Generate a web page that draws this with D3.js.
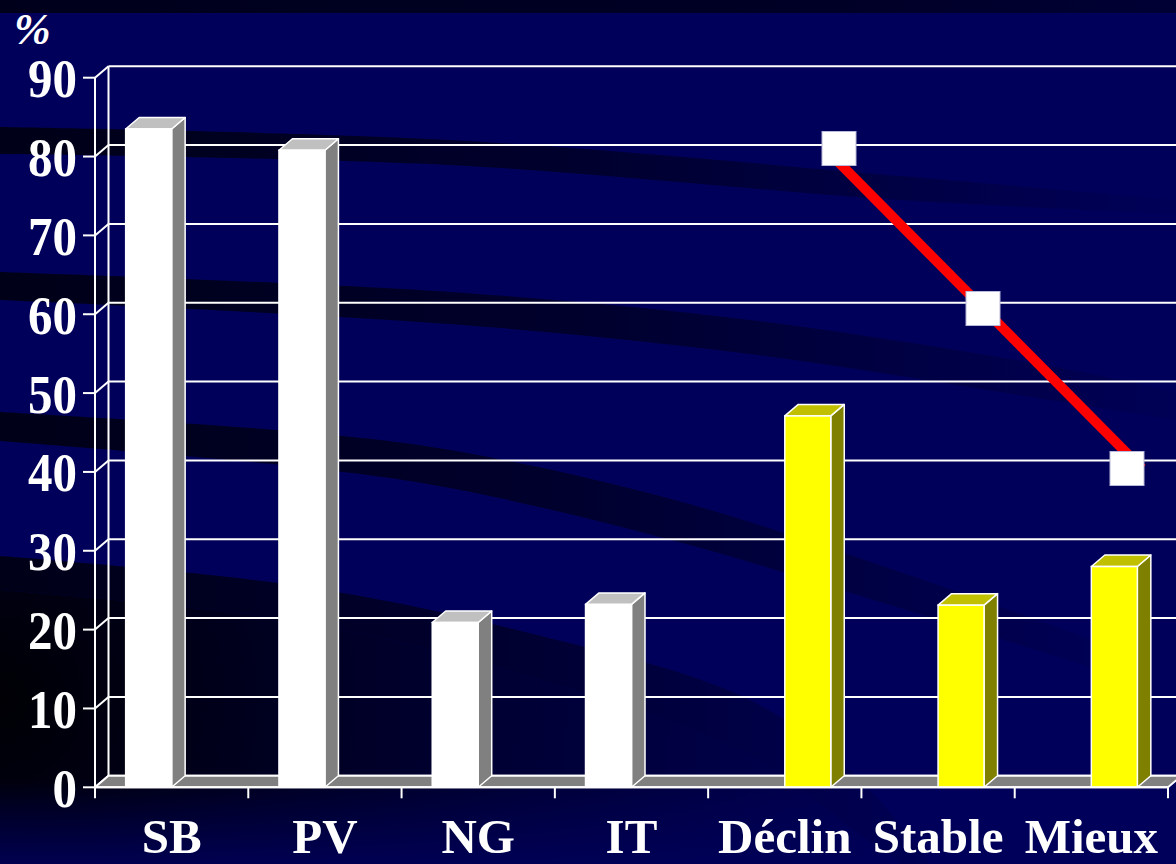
<!DOCTYPE html>
<html>
<head>
<meta charset="utf-8">
<script src="https://cdn.jsdelivr.net/npm/d3@7"></script>
<style>
  html, body { margin: 0; padding: 0; background: #00005a; }
  svg { display: block; }
</style>
</head>
<body>
<svg id="chart" width="1176" height="864"></svg>
<script>
// ---- data ----
const categories = ["SB", "PV", "NG", "IT", "Déclin", "Stable", "Mieux"];
const seriesKeys = ["facteurs", "evolution"];
const facteursValues = [83.5, 80.8, 20.9, 23.2, null, null, null];
const evolutionValues = [null, null, null, null, 47.1, 23.1, 28];
const lineCategories = ["Déclin", "Stable", "Mieux"];
const lineValues = [80, 60, 40];
const yTicks = [0, 10, 20, 30, 40, 50, 60, 70, 80, 90];
const yUnit = "%";

// ---- layout ----
const W = 1176, H = 864;
const depth = { dx: 13.5, dy: -11.5 };
const svg = d3.select("#chart");

const x = d3.scaleBand().domain(categories).range([95, 1168]).padding(0);
const inner = d3.scaleBand().domain(seriesKeys).range([0, x.bandwidth()])
  .paddingInner(0).paddingOuter(0.667);
const y = d3.scaleLinear().domain([0, 90]).range([787.3, 77.7]);

// line overlay runs on its own plane
const lineX = d3.scalePoint().domain(lineCategories).range([825, 1142]);
const markX = d3.scalePoint().domain(lineCategories).range([839, 1127]);
const lineY = d3.scaleLinear().domain([0, 90]).range([788.5, 68.5]);

// ---- background ----
const defs = svg.append("defs");
function fadeGradient(id, x1, x2, stops) {
  const g = defs.append("linearGradient").attr("id", id)
    .attr("gradientUnits", "userSpaceOnUse")
    .attr("x1", x1).attr("y1", 0).attr("x2", x2).attr("y2", 0);
  stops.forEach(s => g.append("stop").attr("offset", s[0])
    .attr("stop-color", "#000010").attr("stop-opacity", s[1]));
  return "url(#" + id + ")";
}

svg.append("rect").attr("width", W).attr("height", H).attr("fill", "#00005a");

// dark lower-left region
const rg = defs.append("radialGradient").attr("id", "cornerShade")
  .attr("gradientUnits", "userSpaceOnUse")
  .attr("cx", 0).attr("cy", 700).attr("r", 950);
rg.append("stop").attr("offset", 0).attr("stop-color", "#000000").attr("stop-opacity", 0.95);
rg.append("stop").attr("offset", 0.45).attr("stop-color", "#000010").attr("stop-opacity", 0.6);
rg.append("stop").attr("offset", 1).attr("stop-color", "#000020").attr("stop-opacity", 0.1);

const curve = d3.line().curve(d3.curveCatmullRom.alpha(0.5));

const band5Lower = [[0, 590], [300, 622], [525, 675], [750, 755], [862, 836], [905, 864]];
svg.append("path")
  .attr("d", curve(band5Lower) + "L0,864Z")
  .attr("fill", "url(#cornerShade)");

// lighten bottom strip back toward navy
const bg = defs.append("linearGradient").attr("id", "bottomLift")
  .attr("x1", 0).attr("y1", 0).attr("x2", 0).attr("y2", 1);
bg.append("stop").attr("offset", 0).attr("stop-color", "#00005a").attr("stop-opacity", 0);
bg.append("stop").attr("offset", 1).attr("stop-color", "#00005a").attr("stop-opacity", 0.85);
svg.append("rect").attr("x", 0).attr("y", 780).attr("width", 900).attr("height", 84)
  .attr("fill", "url(#bottomLift)");

// top strip
svg.append("rect").attr("x", 0).attr("y", 0).attr("width", W).attr("height", 13)
  .attr("fill", fadeGradient("topFade", 0, W, [[0, 0.85], [0.7, 0.7], [1, 0.5]]));

const bands = [
  { id: "b2", upper: [[0, 127], [450, 140], [900, 176], [1176, 200]],
    lower: [[1176, 214], [900, 200], [450, 165], [0, 154]], fade: [0, 1150] },
  { id: "b3", upper: [[0, 272], [450, 292], [750, 320], [1050, 366], [1176, 392]],
    lower: [[1176, 420], [1050, 400], [750, 354], [450, 324], [0, 300]], fade: [0, 1176] },
  { id: "b4", upper: [[0, 412], [300, 432], [450, 450], [675, 500], [900, 572], [1120, 650]],
    lower: [[1120, 676], [900, 608], [675, 541], [450, 488], [300, 467], [0, 441]], fade: [0, 1120] },
  { id: "b5", upper: [[0, 556], [300, 586], [525, 632], [750, 700], [862, 782], [930, 864]],
    lower: [[905, 864]].concat(band5Lower.slice(0, -1).reverse()), fade: [0, 950] }
];
bands.forEach(b => {
  const d = curve(b.upper) + "L" + curve(b.lower).slice(1) + "Z";
  svg.append("path").attr("d", d)
    .attr("fill", fadeGradient("fade_" + b.id, b.fade[0], b.fade[1],
      [[0, 0.9], [0.5, 0.6], [1, 0.05]]));
});

// ---- walls, gridlines and floor ----
const white = "#ffffff";
const grid = svg.append("g");
yTicks.forEach(t => {
  const yf = y(t), yb = y(t) + depth.dy;
  grid.append("line").attr("x1", 95 + depth.dx).attr("x2", W + 5)
    .attr("y1", yb).attr("y2", yb).attr("stroke", white).attr("stroke-width", 2);
  grid.append("line").attr("x1", 95).attr("x2", 95 + depth.dx)
    .attr("y1", yf).attr("y2", yb).attr("stroke", white).attr("stroke-width", 2);
  grid.append("line").attr("x1", 83).attr("x2", 95)
    .attr("y1", yf).attr("y2", yf).attr("stroke", white).attr("stroke-width", 2);
});
// back wall edge
grid.append("line").attr("x1", 95 + depth.dx).attr("x2", 95 + depth.dx)
  .attr("y1", y(90) + depth.dy).attr("y2", y(0) + depth.dy)
  .attr("stroke", white).attr("stroke-width", 2);
// front value axis
grid.append("line").attr("x1", 95).attr("x2", 95)
  .attr("y1", y(90)).attr("y2", y(0)).attr("stroke", white).attr("stroke-width", 2);

// floor
const x0 = x.range()[0], x1 = x.range()[1];
svg.append("polygon")
  .attr("points", [[x0, y(0)], [x1, y(0)], [x1 + depth.dx, y(0) + depth.dy], [x0 + depth.dx, y(0) + depth.dy]]
    .map(p => p.join(",")).join(" "))
  .attr("fill", "#808080").attr("stroke", white).attr("stroke-width", 2)
  .attr("stroke-linejoin", "round");

// ---- 3D bars ----
const palettes = {
  facteurs: { front: "#ffffff", top: "#c0c0c0", side: "#808080" },
  evolution: { front: "#ffff00", top: "#c0c000", side: "#808000" }
};
const barData = [];
categories.forEach((c, i) => {
  if (facteursValues[i] != null) barData.push({ c, key: "facteurs", v: facteursValues[i] });
  if (evolutionValues[i] != null) barData.push({ c, key: "evolution", v: evolutionValues[i] });
});

const bars = svg.append("g").selectAll("g").data(barData).join("g");
const pts = a => a.map(p => p.join(",")).join(" ");
bars.each(function(d) {
  const g = d3.select(this);
  const bx = x(d.c) + inner(d.key), bw = inner.bandwidth();
  const top = y(d.v), base = y(0);
  const pal = palettes[d.key];
  g.append("polygon")
    .attr("points", pts([[bx + bw, top], [bx + bw + depth.dx, top + depth.dy],
      [bx + bw + depth.dx, base + depth.dy], [bx + bw, base]]))
    .attr("fill", pal.side).attr("stroke", white).attr("stroke-width", 1.5).attr("stroke-linejoin", "round");
  g.append("polygon")
    .attr("points", pts([[bx, top], [bx + bw, top], [bx + bw + depth.dx, top + depth.dy], [bx + depth.dx, top + depth.dy]]))
    .attr("fill", pal.top).attr("stroke", white).attr("stroke-width", 1.5).attr("stroke-linejoin", "round");
  g.append("rect").attr("x", bx).attr("y", top).attr("width", bw).attr("height", base - top)
    .attr("fill", pal.front).attr("stroke", white).attr("stroke-width", 1.5);
});

// ---- category axis ----
const xAxis = svg.append("g");
xAxis.append("line").attr("x1", x0).attr("x2", x1).attr("y1", y(0)).attr("y2", y(0))
  .attr("stroke", white).attr("stroke-width", 2);
x.domain().map(c => x(c)).concat([x1]).forEach(tx => {
  xAxis.append("line").attr("x1", tx).attr("x2", tx).attr("y1", y(0)).attr("y2", y(0) + 11)
    .attr("stroke", white).attr("stroke-width", 2);
});
xAxis.selectAll("text").data(categories).join("text")
  .attr("x", d => x(d) + x.bandwidth() / 2)
  .attr("y", 853)
  .attr("text-anchor", "middle")
  .attr("fill", white)
  .attr("font-family", "'Liberation Serif', 'Times New Roman', serif")
  .attr("font-weight", "bold")
  .attr("font-size", 49)
  .text(d => d);

// ---- value labels ----
const yLab = svg.append("g");
yTicks.forEach(t => {
  yLab.append("text")
    .attr("transform", `translate(77,${y(t)}) scale(1,1.12)`)
    .attr("y", 17.4)
    .attr("text-anchor", "end")
    .attr("fill", white)
    .attr("font-family", "'Liberation Serif', 'Times New Roman', serif")
    .attr("font-weight", "bold")
    .attr("font-size", 49)
    .text(t);
});
svg.append("text").attr("x", 14).attr("y", 44)
  .attr("fill", white)
  .attr("font-family", "'Liberation Serif', 'Times New Roman', serif")
  .attr("font-style", "italic").attr("font-weight", "bold")
  .attr("font-size", 44)
  .text(yUnit);

// ---- trend line ----
const trend = lineCategories.map((c, i) => ({ c, v: lineValues[i] }));
svg.append("path")
  .attr("d", d3.line().x(d => lineX(d.c)).y(d => lineY(d.v))(trend))
  .attr("fill", "none").attr("stroke", "#ff0000").attr("stroke-width", 10)
  .attr("stroke-linecap", "butt").attr("stroke-linejoin", "round");
const mk = 34;
svg.append("g").selectAll("rect").data(trend).join("rect")
  .attr("x", d => markX(d.c) - mk / 2).attr("y", d => lineY(d.v) - mk / 2)
  .attr("width", mk).attr("height", mk)
  .attr("fill", "#ffffff").attr("stroke", "#b8b8d8").attr("stroke-width", 1);
</script>
</body>
</html>
